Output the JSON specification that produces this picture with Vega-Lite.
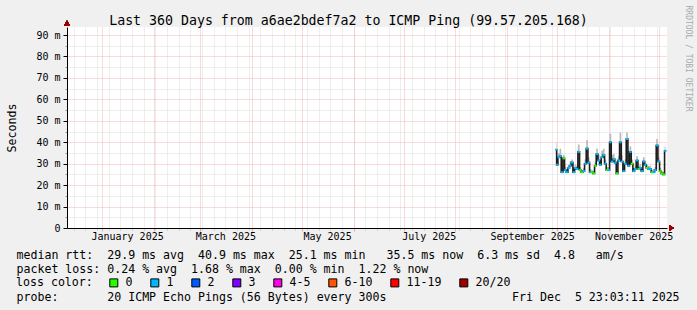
{
  "$schema": "https://vega.github.io/schema/vega-lite/v6.json",
  "width": 600,
  "height": 201,
  "autosize": {"type": "none"},
  "padding": {"left": 67, "top": 27, "right": 30, "bottom": 82},
  "background": "#f0f0f0",
  "config": {
    "view": {"fill": "white", "stroke": null},
    "font": "DejaVu Sans Mono",
    "axis": {"labelFont": "DejaVu Sans Mono", "titleFont": "DejaVu Sans Mono", "labelColor": "black", "titleColor": "black", "titleFontWeight": "normal"}
  },
  "data": {
    "values": [
      {"t": "2025-09-30T12:00:00", "med": 36.5, "hi": 40, "loss": "1"},
      {"t": "2025-10-01T00:00:00", "med": 29.5, "hi": 31, "loss": "1"},
      {"t": "2025-10-02T00:00:00", "med": 33, "hi": 35, "loss": "1"},
      {"t": "2025-10-03T00:00:00", "med": 33.5, "hi": 37, "loss": "1"},
      {"t": "2025-10-04T00:00:00", "med": 26, "hi": 27.5, "loss": "1"},
      {"t": "2025-10-05T00:00:00", "med": 32.5, "hi": 34, "loss": "0"},
      {"t": "2025-10-06T00:00:00", "med": 27, "hi": 28.5, "loss": "1"},
      {"t": "2025-10-07T00:00:00", "med": 26, "hi": 27, "loss": "1"},
      {"t": "2025-10-08T00:00:00", "med": 28, "hi": 29.5, "loss": "1"},
      {"t": "2025-10-09T00:00:00", "med": 29, "hi": 31, "loss": "1"},
      {"t": "2025-10-10T00:00:00", "med": 30.5, "hi": 32, "loss": "1"},
      {"t": "2025-10-11T00:00:00", "med": 26, "hi": 27.5, "loss": "1"},
      {"t": "2025-10-12T00:00:00", "med": 28, "hi": 29.5, "loss": "1"},
      {"t": "2025-10-13T00:00:00", "med": 27.5, "hi": 29, "loss": "1"},
      {"t": "2025-10-14T00:00:00", "med": 35.5, "hi": 39, "loss": "1"},
      {"t": "2025-10-15T00:00:00", "med": 27, "hi": 28.5, "loss": "0"},
      {"t": "2025-10-16T00:00:00", "med": 26, "hi": 27, "loss": "0"},
      {"t": "2025-10-17T00:00:00", "med": 26.5, "hi": 28, "loss": "1"},
      {"t": "2025-10-18T00:00:00", "med": 30, "hi": 32, "loss": "1"},
      {"t": "2025-10-19T00:00:00", "med": 37, "hi": 41, "loss": "1"},
      {"t": "2025-10-20T00:00:00", "med": 30.5, "hi": 33, "loss": "1"},
      {"t": "2025-10-21T00:00:00", "med": 26, "hi": 27.5, "loss": "1"},
      {"t": "2025-10-22T00:00:00", "med": 26, "hi": 27, "loss": "0"},
      {"t": "2025-10-23T00:00:00", "med": 25.5, "hi": 26.5, "loss": "0"},
      {"t": "2025-10-24T00:00:00", "med": 29, "hi": 31, "loss": "0"},
      {"t": "2025-10-25T00:00:00", "med": 34.5, "hi": 37, "loss": "1"},
      {"t": "2025-10-26T00:00:00", "med": 31.5, "hi": 34, "loss": "1"},
      {"t": "2025-10-27T00:00:00", "med": 29.5, "hi": 31.5, "loss": "1"},
      {"t": "2025-10-28T00:00:00", "med": 33, "hi": 36, "loss": "1"},
      {"t": "2025-10-29T00:00:00", "med": 34, "hi": 37, "loss": "1"},
      {"t": "2025-10-30T00:00:00", "med": 30, "hi": 32, "loss": "1"},
      {"t": "2025-10-31T00:00:00", "med": 27, "hi": 28.5, "loss": "0"},
      {"t": "2025-11-01T00:00:00", "med": 27, "hi": 28.5, "loss": "1"},
      {"t": "2025-11-02T00:00:00", "med": 40, "hi": 44, "loss": "1"},
      {"t": "2025-11-03T00:00:00", "med": 31, "hi": 34, "loss": "1"},
      {"t": "2025-11-04T00:00:00", "med": 32, "hi": 34.5, "loss": "1"},
      {"t": "2025-11-05T00:00:00", "med": 30.5, "hi": 32.5, "loss": "1"},
      {"t": "2025-11-06T00:00:00", "med": 25.5, "hi": 27, "loss": "0"},
      {"t": "2025-11-07T00:00:00", "med": 31.5, "hi": 33.5, "loss": "1"},
      {"t": "2025-11-08T00:00:00", "med": 40, "hi": 44.5, "loss": "1"},
      {"t": "2025-11-09T00:00:00", "med": 31, "hi": 34, "loss": "1"},
      {"t": "2025-11-10T00:00:00", "med": 26.5, "hi": 28, "loss": "1"},
      {"t": "2025-11-11T00:00:00", "med": 30, "hi": 32, "loss": "1"},
      {"t": "2025-11-12T00:00:00", "med": 41.5, "hi": 44.5, "loss": "1"},
      {"t": "2025-11-13T00:00:00", "med": 29, "hi": 31.5, "loss": "1"},
      {"t": "2025-11-14T00:00:00", "med": 35.5, "hi": 38, "loss": "1"},
      {"t": "2025-11-15T00:00:00", "med": 30, "hi": 32, "loss": "0"},
      {"t": "2025-11-16T00:00:00", "med": 26.5, "hi": 28, "loss": "1"},
      {"t": "2025-11-17T00:00:00", "med": 27.5, "hi": 29, "loss": "1"},
      {"t": "2025-11-18T00:00:00", "med": 31.5, "hi": 33.5, "loss": "1"},
      {"t": "2025-11-19T00:00:00", "med": 27.5, "hi": 29, "loss": "0"},
      {"t": "2025-11-20T00:00:00", "med": 28, "hi": 30, "loss": "1"},
      {"t": "2025-11-21T00:00:00", "med": 26.5, "hi": 28, "loss": "1"},
      {"t": "2025-11-22T00:00:00", "med": 31, "hi": 33, "loss": "1"},
      {"t": "2025-11-23T00:00:00", "med": 29.5, "hi": 31, "loss": "1"},
      {"t": "2025-11-24T00:00:00", "med": 28, "hi": 29.5, "loss": "0"},
      {"t": "2025-11-25T00:00:00", "med": 27.5, "hi": 29, "loss": "1"},
      {"t": "2025-11-26T00:00:00", "med": 27.5, "hi": 29, "loss": "1"},
      {"t": "2025-11-27T00:00:00", "med": 26, "hi": 27, "loss": "0"},
      {"t": "2025-11-28T00:00:00", "med": 26, "hi": 27.5, "loss": "1"},
      {"t": "2025-11-29T00:00:00", "med": 27, "hi": 28.5, "loss": "1"},
      {"t": "2025-11-30T00:00:00", "med": 38.5, "hi": 41.5, "loss": "1"},
      {"t": "2025-12-01T00:00:00", "med": 31, "hi": 33, "loss": "1"},
      {"t": "2025-12-02T00:00:00", "med": 26.5, "hi": 28, "loss": "0"},
      {"t": "2025-12-03T00:00:00", "med": 25.5, "hi": 26.5, "loss": "0"},
      {"t": "2025-12-04T00:00:00", "med": 25, "hi": 26, "loss": "0"},
      {"t": "2025-12-05T00:00:00", "med": 36, "hi": 38, "loss": "1"}
    ]
  },
  "layer": [
    {
      "mark": {"type": "area", "interpolate": "step", "color": "#b8b8b8"},
      "encoding": {
        "x": {"field": "t", "type": "temporal",
          "scale": {"domain": [{"year": 2024, "month": 12, "date": 10, "hours": 23, "minutes": 3, "seconds": 11}, {"year": 2025, "month": 12, "date": 5, "hours": 23, "minutes": 3, "seconds": 11}]},
          "axis": {"orient": "bottom", "grid": true, "gridColor": "#dcdcdc", "gridDash": [1, 1], "tickCount": {"interval": "week", "step": 1}, "ticks": true, "tickSize": 2, "tickColor": "#cccccc", "labels": false, "domain": false, "title": null}},
        "y": {"field": "med", "type": "quantitative", "scale": {"domain": [0, 93.75], "nice": false},
          "axis": {"orient": "left", "values": [5, 15, 25, 35, 45, 55, 65, 75, 85], "grid": true, "gridColor": "#dcdcdc", "gridDash": [1, 1], "ticks": true, "tickSize": 2, "tickColor": "#999999", "labels": false, "domain": false, "title": null}},
        "y2": {"field": "hi"}
      }
    },
    {
      "mark": {"type": "line", "interpolate": "step", "color": "#1c1c1c", "strokeWidth": 1.6},
      "encoding": {
        "x": {"field": "t", "type": "temporal",
          "scale": {"domain": [{"year": 2024, "month": 12, "date": 10, "hours": 23, "minutes": 3, "seconds": 11}, {"year": 2025, "month": 12, "date": 5, "hours": 23, "minutes": 3, "seconds": 11}]},
          "axis": {"orient": "bottom", "grid": true, "gridColor": "#f5b5b5", "gridDash": [1, 1], "tickCount": {"interval": "month", "step": 1}, "ticks": true, "tickSize": 3, "tickColor": "#f0a0a0", "labels": false, "domain": true, "domainColor": "black", "domainWidth": 1,
            "title": "probe:\u00a0\u00a0\u00a0\u00a0\u00a0\u00a0\u00a020 ICMP Echo Pings (56 Bytes) every 300s\u00a0\u00a0\u00a0\u00a0\u00a0\u00a0\u00a0\u00a0\u00a0\u00a0\u00a0\u00a0\u00a0\u00a0\u00a0\u00a0\u00a0\u00a0Fri Dec\u00a0\u00a05 23:03:11 2025",
            "titleX": -51, "titleY": 72, "titleAlign": "left", "titleBaseline": "alphabetic", "titleFontSize": 11.6, "titleFontWeight": "normal"}},
        "y": {"field": "med", "type": "quantitative", "scale": {"domain": [0, 93.75], "nice": false},
          "axis": {"orient": "left", "values": [0, 10, 20, 30, 40, 50, 60, 70, 80, 90], "grid": true, "gridColor": "#f5b5b5", "gridDash": [1, 1], "ticks": true, "tickSize": 4, "tickColor": "black", "labelExpr": "datum.value == 0 ? '0\u00a0\u00a0' : datum.value + ' m'", "labelFontSize": 10, "labelPadding": 3, "domain": true, "domainColor": "black", "domainWidth": 1,
            "title": "Seconds", "titleX": -52, "titleY": 100.5, "titleAngle": 270, "titleAlign": "center", "titleBaseline": "alphabetic", "titleFontSize": 11.6, "titleFontWeight": "normal"}}
      }
    },
    {
      "mark": {"type": "tick", "orient": "horizontal", "size": 2.5, "thickness": 2, "opacity": 1},
      "encoding": {
        "x": {"field": "t", "type": "temporal",
          "scale": {"domain": [{"year": 2024, "month": 12, "date": 10, "hours": 23, "minutes": 3, "seconds": 11}, {"year": 2025, "month": 12, "date": 5, "hours": 23, "minutes": 3, "seconds": 11}]},
          "axis": {"orient": "bottom", "grid": false, "ticks": false, "domain": false,
            "values": [{"year": 2025, "month": 1, "date": 16}, {"year": 2025, "month": 3, "date": 16}, {"year": 2025, "month": 5, "date": 16}, {"year": 2025, "month": 7, "date": 16}, {"year": 2025, "month": 9, "date": 16}, {"year": 2025, "month": 11, "date": 16}],
            "format": "%B %Y", "labelFontSize": 10, "labelPadding": 3, "labelFlush": false, "labelOverlap": false,
            "title": ["median rtt:\u00a0\u00a029.9 ms avg\u00a0\u00a040.9 ms max\u00a0\u00a025.1 ms min\u00a0\u00a0\u00a035.5 ms now\u00a0\u00a06.3 ms sd\u00a0\u00a04.8\u00a0\u00a0\u00a0am/s", "packet loss: 0.24 % avg\u00a0\u00a01.68 % max\u00a0\u00a00.00 % min\u00a0\u00a01.22 % now"],
            "titleX": -51, "titleY": 30, "titleAlign": "left", "titleBaseline": "alphabetic", "titleLineHeight": 14, "titleFontSize": 11.6, "titleFontWeight": "normal"}},
        "y": {"field": "med", "type": "quantitative", "scale": {"domain": [0, 93.75], "nice": false},
          "axis": {"orient": "right", "grid": false, "ticks": false, "labels": false, "domain": false,
            "title": "RRDTOOL / TOBI OETIKER", "titleAngle": 90, "titleX": 18, "titleY": -22, "titleAlign": "left", "titleBaseline": "alphabetic", "titleFontSize": 8, "titleColor": "#aaaaaa", "titleFontWeight": "normal"}},
        "color": {"field": "loss", "type": "nominal",
          "scale": {"domain": ["0", "1", "2", "3", "4-5", "6-10", "11-19", "20/20"], "range": ["#26ff00", "#00b8ff", "#0059ff", "#7e00ff", "#ff00ea", "#ff5500", "#ff0000", "#a10000"]},
          "legend": {"orient": "none", "legendX": -51, "legendY": 250, "direction": "horizontal", "title": "loss color:", "titleOrient": "left", "titleFont": "DejaVu Sans Mono", "titleFontSize": 11.6, "titleFontWeight": "normal", "titleColor": "black", "titlePadding": 15, "labelFont": "DejaVu Sans Mono", "labelFontSize": 11.6, "labelColor": "black", "labelOffset": 6, "symbolType": "square", "symbolSize": 64, "symbolStrokeColor": "black", "symbolStrokeWidth": 1, "symbolOpacity": 1, "columnPadding": 15, "padding": 0}}
      }
    },
    {
      "mark": {"type": "point", "shape": "triangle-up", "filled": true, "size": 30, "color": "#990000", "opacity": 1},
      "encoding": {
        "x": {"datum": {"year": 2024, "month": 12, "date": 10, "hours": 23, "minutes": 3, "seconds": 11}, "type": "temporal",
          "scale": {"domain": [{"year": 2024, "month": 12, "date": 10, "hours": 23, "minutes": 3, "seconds": 11}, {"year": 2025, "month": 12, "date": 5, "hours": 23, "minutes": 3, "seconds": 11}]},
          "axis": {"orient": "top", "grid": false, "ticks": false, "labels": false, "domain": false,
            "title": "Last 360 Days from a6ae2bdef7a2 to ICMP Ping (99.57.205.168)", "titleX": 281, "titleY": -3, "titleAlign": "center", "titleBaseline": "alphabetic", "titleFontSize": 13.25, "titleFontWeight": "normal"}},
        "y": {"datum": 95.6, "type": "quantitative", "scale": {"domain": [0, 93.75], "nice": false}, "axis": null}
      }
    },
    {
      "mark": {"type": "point", "shape": "triangle-right", "filled": true, "size": 30, "color": "#990000", "opacity": 1},
      "encoding": {
        "x": {"datum": {"year": 2025, "month": 12, "date": 8, "hours": 16}, "type": "temporal",
          "scale": {"domain": [{"year": 2024, "month": 12, "date": 10, "hours": 23, "minutes": 3, "seconds": 11}, {"year": 2025, "month": 12, "date": 5, "hours": 23, "minutes": 3, "seconds": 11}]},
          "axis": null},
        "y": {"datum": 0, "type": "quantitative", "scale": {"domain": [0, 93.75], "nice": false}, "axis": null}
      }
    }
  ],
  "resolve": {"axis": {"x": "independent", "y": "independent"}}
}
